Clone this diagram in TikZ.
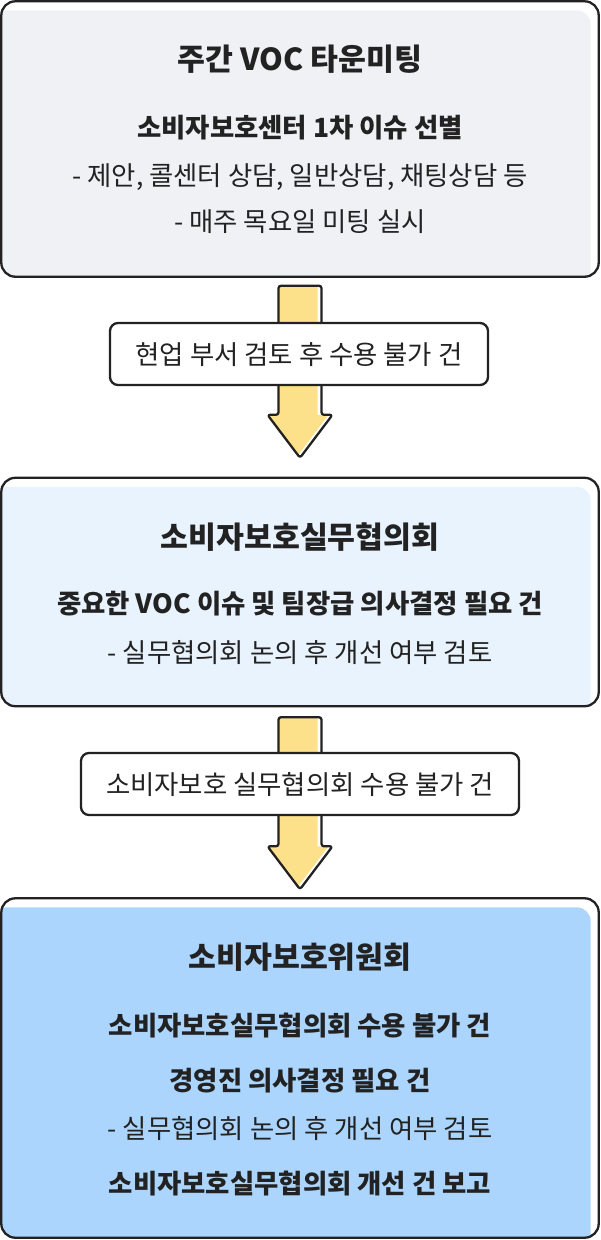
\documentclass[tikz,border=0pt]{standalone}
\usepackage{fontspec}
\setmainfont{Noto Sans CJK KR}
\usetikzlibrary{calc}
\definecolor{inkdark}{HTML}{222222}
\definecolor{weekgray}{HTML}{F0F1F5}
\definecolor{councilblue}{HTML}{E8F3FE}
\definecolor{committeeblue}{HTML}{ABD5FD}
\definecolor{flowyellow}{HTML}{FCE18A}
\tikzset{
  panel/.style={rectangle, inner sep=0pt, minimum width=597pt},
  outline/.style={draw=inkdark, line width=2.3pt, rounded corners=14pt},
  flowline/.style={draw=inkdark, line width=2.3pt, line join=round, rounded corners=2.5pt},
  tag/.style={draw=inkdark, fill=white, line width=2.3pt, rounded corners=8pt, minimum height=62pt, inner sep=0pt, font=\fontsize{26.4}{30}\selectfont, text=inkdark, text height=20pt, text depth=0pt},
  headline/.style={font=\bfseries\fontsize{30.3}{34}\selectfont, text=inkdark, text height=23pt, text depth=0pt},
  boldline/.style={font=\bfseries\fontsize{26.4}{30}\selectfont, text=inkdark, text height=20pt, text depth=0pt},
  plainline/.style={font=\fontsize{26.4}{30}\selectfont, text=inkdark, text height=20pt, text depth=0pt}
}
\begin{document}
\begin{tikzpicture}[x=1pt,y=-1pt]
\useasboundingbox (0,0) rectangle (600,1240);

% panels
\node[panel, minimum height=275pt] (weekly) at (300,139) {};
\node[panel, minimum height=228pt] (council) at (300,592) {};
\node[panel, minimum height=339pt] (committee) at (300,1068) {};

\begin{scope}
\clip[rounded corners=14pt] (weekly.north west) rectangle (weekly.south east);
\fill[weekgray, rounded corners=14pt] ($(weekly.north west)+(-8,9)$) rectangle ($(weekly.south east)+(-8,9)$);
\end{scope}
\draw[outline] (weekly.north west) rectangle (weekly.south east);

\begin{scope}
\clip[rounded corners=14pt] (council.north west) rectangle (council.south east);
\fill[councilblue, rounded corners=14pt] ($(council.north west)+(-8,9)$) rectangle ($(council.south east)+(-8,9)$);
\end{scope}
\draw[outline] (council.north west) rectangle (council.south east);

\begin{scope}
\clip[rounded corners=14pt] (committee.north west) rectangle (committee.south east);
\fill[committeeblue, rounded corners=14pt] ($(committee.north west)+(-8,9)$) rectangle ($(committee.south east)+(-8,9)$);
\end{scope}
\draw[outline] (committee.north west) rectangle (committee.south east);

% flow arrows
\coordinate (flowtopA) at ($(weekly.south)+(0,9)$);
\coordinate (flowtipA) at ($(council.north)+(0,-20)$);
\coordinate (flowtopB) at ($(council.south)+(0,11)$);
\coordinate (flowtipB) at ($(committee.north)+(0,-9)$);

\begin{scope}
\clip ($(flowtopA)+(-21.5,0)$) -- ($(flowtopA)+(21.5,0)$) -- ($(flowtipA)+(21.5,-43)$) -- ($(flowtipA)+(32.5,-43)$) -- (flowtipA) -- ($(flowtipA)+(-32.5,-43)$) -- ($(flowtipA)+(-21.5,-43)$) -- cycle;
\fill[flowyellow] ($(flowtopA)+(-25.5,0)$) -- ($(flowtopA)+(17.5,0)$) -- ($(flowtipA)+(17.5,-43)$) -- ($(flowtipA)+(28.5,-43)$) -- ($(flowtipA)+(-4,0)$) -- ($(flowtipA)+(-36.5,-43)$) -- ($(flowtipA)+(-25.5,-43)$) -- cycle;
\end{scope}
\draw[flowline] ($(flowtopA)+(-21.5,0)$) -- ($(flowtopA)+(21.5,0)$) -- ($(flowtipA)+(21.5,-43)$) -- ($(flowtipA)+(32.5,-43)$) -- (flowtipA) -- ($(flowtipA)+(-32.5,-43)$) -- ($(flowtipA)+(-21.5,-43)$) -- cycle;

\begin{scope}
\clip ($(flowtopB)+(-21.5,0)$) -- ($(flowtopB)+(21.5,0)$) -- ($(flowtipB)+(21.5,-43)$) -- ($(flowtipB)+(32.5,-43)$) -- (flowtipB) -- ($(flowtipB)+(-32.5,-43)$) -- ($(flowtipB)+(-21.5,-43)$) -- cycle;
\fill[flowyellow] ($(flowtopB)+(-25.5,0)$) -- ($(flowtopB)+(17.5,0)$) -- ($(flowtipB)+(17.5,-43)$) -- ($(flowtipB)+(28.5,-43)$) -- ($(flowtipB)+(-4,0)$) -- ($(flowtipB)+(-36.5,-43)$) -- ($(flowtipB)+(-25.5,-43)$) -- cycle;
\end{scope}
\draw[flowline] ($(flowtopB)+(-21.5,0)$) -- ($(flowtopB)+(21.5,0)$) -- ($(flowtipB)+(21.5,-43)$) -- ($(flowtipB)+(32.5,-43)$) -- (flowtipB) -- ($(flowtipB)+(-32.5,-43)$) -- ($(flowtipB)+(-21.5,-43)$) -- cycle;

% tags on the arrows
\node[tag, minimum width=378pt] (rejectdept) at (299,354) {현업 부서 검토 후 수용 불가 건};
\node[tag, minimum width=438pt] (rejectcouncil) at (300,784) {소비자보호 실무협의회 수용 불가 건};

% weekly meeting
\node[headline] (weeklytitle) at (300,59) {주간 VOC 타운미팅};
\node[boldline] (weeklysort) at (300,127) {소비자보호센터 1차 이슈 선별};
\node[plainline] (weeklykinds) at (300,175) {- 제안, 콜센터 상담, 일반상담, 채팅상담 등};
\node[plainline] (weeklyday) at (300,221) {- 매주 목요일 미팅 실시};

% working council
\node[headline] (counciltitle) at (300,537) {소비자보호실무협의회};
\node[boldline] (councilissue) at (300,603) {중요한 VOC 이슈 및 팀장급 의사결정 필요 건};
\node[plainline] (councilreview) at (300,652) {- 실무협의회 논의 후 개선 여부 검토};

% committee
\node[headline] (committeetitle) at (300,957) {소비자보호위원회};
\node[boldline] (committeereject) at (300,1025) {소비자보호실무협의회 수용 불가 건};
\node[boldline] (committeeexec) at (300,1080) {경영진 의사결정 필요 건};
\node[plainline] (committeereview) at (300,1128) {- 실무협의회 논의 후 개선 여부 검토};
\node[boldline] (committeereport) at (300,1183) {소비자보호실무협의회 개선 건 보고};
\end{tikzpicture}
\end{document}
